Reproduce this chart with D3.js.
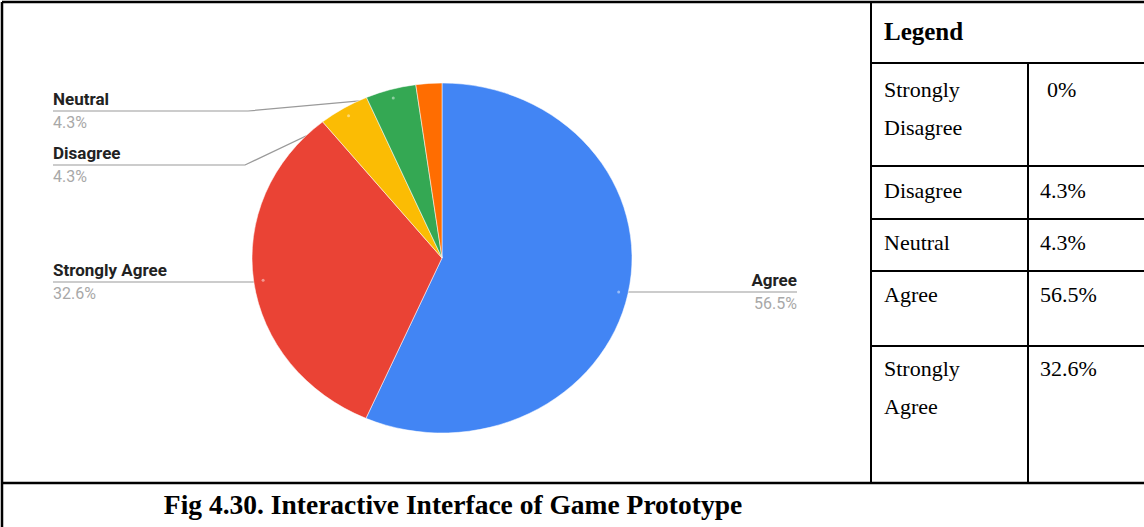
<!DOCTYPE html>
<html>
<head>
<meta charset="utf-8">
<script src="https://cdn.jsdelivr.net/npm/d3@7/dist/d3.min.js"></script>
<style>
  html, body { margin: 0; padding: 0; background: #fff; }
  svg { display: block; }
</style>
</head>
<body>
<svg id="fig" width="1144" height="527"></svg>
<script>
// Survey responses shown in the pie (clockwise from 12 o'clock)
const sliceNames  = ["Agree", "Strongly Agree", "Disagree", "Neutral", "No response"];
const sliceValues = [56.5, 32.6, 4.3, 4.3, 2.2];
const sliceLabelled = [true, true, true, true, false];

// Legend table rows
const legendNames  = [["Strongly", "Disagree"], ["Disagree"], ["Neutral"], ["Agree"], ["Strongly", "Agree"]];
const legendValues = ["0%", "4.3%", "4.3%", "56.5%", "32.6%"];

const caption = "Fig 4.30. Interactive Interface of Game Prototype";

const W = 1144, H = 527;
const svg = d3.select("#fig");

// ---------- pie ----------
const cx = 442, cy = 258, rx = 190, ry = 175;
const colour = d3.scaleOrdinal()
  .domain(sliceNames)
  .range(["#4285F4", "#EA4335", "#FBBC04", "#34A853", "#FF6D01"]);

const pie = d3.pie().sort(null).value(d => d.value);
const arcs = pie(sliceNames.map((n, i) => ({ name: n, value: sliceValues[i], labelled: sliceLabelled[i] })));
const arc = d3.arc().innerRadius(0).outerRadius(ry);

// anchor point of a leader line, inside the slice near its rim
function anchor(a) {
  const m = (a.startAngle + a.endAngle) / 2;
  return [cx + Math.sin(m) * rx * 0.95, cy - Math.cos(m) * ry * 0.95];
}

// label placement for each labelled slice
const labelPos = {
  "Neutral":        { side: "left",  x: 53,  lineY: 111, elbow: 248 },
  "Disagree":       { side: "left",  x: 53,  lineY: 165, elbow: 245 },
  "Strongly Agree": { side: "left",  x: 53,  lineY: 282, elbow: null },
  "Agree":          { side: "right", x: 797, lineY: 292, elbow: null }
};

const leaders = svg.append("g");
arcs.filter(a => a.data.labelled).forEach(a => {
  const p = labelPos[a.data.name];
  const [ax, ay] = anchor(a);
  let pts;
  if (p.side === "left") {
    pts = p.elbow ? [[p.x, p.lineY], [p.elbow, p.lineY], [ax, ay]] : [[p.x, p.lineY], [ax, p.lineY]];
  } else {
    pts = [[ax, p.lineY], [p.x, p.lineY]];
  }
  leaders.append("path")
    .attr("d", d3.line()(pts))
    .attr("fill", "none")
    .attr("stroke", "#9a9a9a")
    .attr("stroke-width", 1.2);
});

const pieG = svg.append("g")
  .attr("transform", `translate(${cx},${cy}) scale(${rx / ry},1)`);
pieG.selectAll("path")
  .data(arcs)
  .join("path")
  .attr("d", arc)
  .attr("fill", d => colour(d.data.name))
  .attr("stroke", "#fff")
  .attr("stroke-width", 0.5);

// small anchor dots
arcs.filter(a => a.data.labelled).forEach(a => {
  const [ax, ay] = anchor(a);
  svg.append("circle").attr("cx", ax).attr("cy", ay).attr("r", 1.5)
    .attr("fill", "#fff").attr("opacity", 0.45);
});

// slice labels
const labels = svg.append("g").style("font-family", "Roboto, 'Noto Sans', sans-serif");
arcs.filter(a => a.data.labelled).forEach(a => {
  const p = labelPos[a.data.name];
  const anchorSide = p.side === "left" ? "start" : "end";
  labels.append("text")
    .attr("x", p.x).attr("y", p.lineY - 6)
    .attr("text-anchor", anchorSide)
    .attr("font-size", 17).attr("font-weight", 700)
    .attr("fill", "#222")
    .text(a.data.name);
  labels.append("text")
    .attr("x", p.x).attr("y", p.lineY + 17)
    .attr("text-anchor", anchorSide)
    .attr("font-size", 16)
    .attr("fill", "#a8a8a8")
    .text(d3.format(".1f")(a.data.value) + "%");
});

// ---------- table frame ----------
const frame = svg.append("g").attr("stroke", "#000").attr("fill", "none");
const xLeft = 2, yTop = 2, xDiv = 871, xVal = 1028, yCap = 483;
const rowLines = [63, 166, 219, 271, 346];
frame.append("line").attr("x1", xLeft).attr("x2", W).attr("y1", yTop).attr("y2", yTop).attr("stroke-width", 2.5);
frame.append("line").attr("x1", xLeft).attr("x2", xLeft).attr("y1", yTop).attr("y2", H).attr("stroke-width", 2.5);
frame.append("line").attr("x1", xDiv).attr("x2", xDiv).attr("y1", yTop).attr("y2", yCap).attr("stroke-width", 2);
frame.append("line").attr("x1", xVal).attr("x2", xVal).attr("y1", rowLines[0]).attr("y2", yCap).attr("stroke-width", 2);
rowLines.forEach(y => frame.append("line").attr("x1", xDiv).attr("x2", W).attr("y1", y).attr("y2", y).attr("stroke-width", 2));
frame.append("line").attr("x1", xLeft).attr("x2", W).attr("y1", yCap).attr("y2", yCap).attr("stroke-width", 2.5);

// ---------- legend table text ----------
const serif = "'Liberation Serif', 'Times New Roman', serif";
const tbl = svg.append("g").style("font-family", serif).attr("fill", "#000");
tbl.append("text").attr("x", 884).attr("y", 40)
  .attr("font-size", 25).attr("font-weight", 700).text("Legend");

const rowBaselines = [97, 198, 250, 302, 376];
const lineGap = 38;
legendNames.forEach((lines, i) => {
  lines.forEach((t, j) => {
    tbl.append("text").attr("x", 884).attr("y", rowBaselines[i] + j * lineGap)
      .attr("font-size", 22).text(t);
  });
  tbl.append("text").attr("x", legendValues[i] === "0%" ? 1047 : 1040).attr("y", rowBaselines[i])
    .attr("font-size", 22).text(legendValues[i]);
});

// ---------- caption ----------
svg.append("text")
  .attr("x", 453).attr("y", 514)
  .attr("text-anchor", "middle")
  .style("font-family", serif)
  .attr("font-size", 27.5).attr("font-weight", 700)
  .text(caption);
</script>
</body>
</html>
